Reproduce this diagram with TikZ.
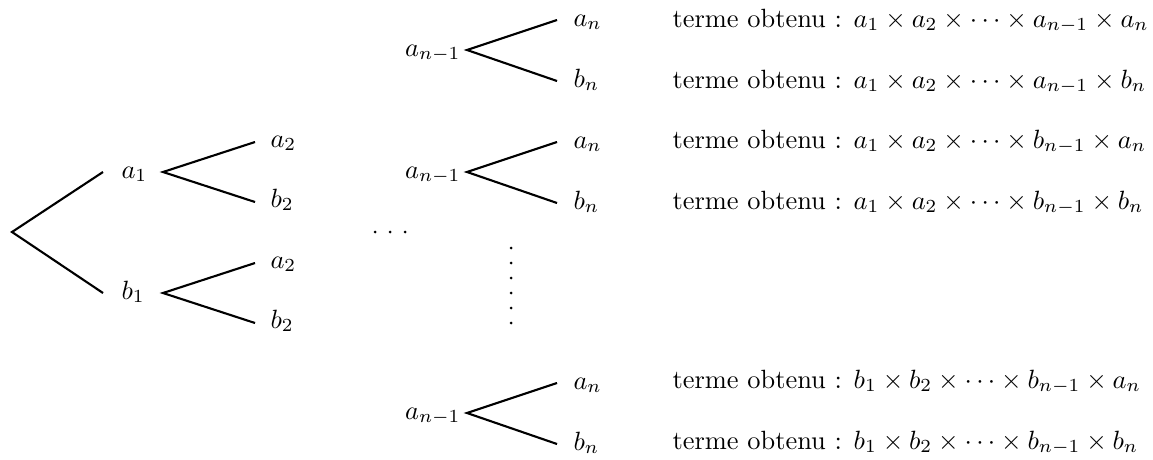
\documentclass[tikz,border=0pt]{standalone}
\begin{document}
\begin{tikzpicture}[x=0.3788pt,y=-0.3788pt,
  branch/.style={thick},
  lbl/.style={inner sep=0pt,anchor=base west},
  lblr/.style={inner sep=0pt,anchor=base east},
  res/.style={inner sep=0pt,anchor=base west},
  dotmark/.style={fill=black}]
\useasboundingbox (0,0) rectangle (1153,459);
% ---------- left tree ----------
\coordinate (R) at (12,232);
\coordinate (A1e) at (103,172);
\coordinate (B1e) at (103,293);
\node[lbl] (a1) at (121,178) {$a_1$};
\node[lbl] (b1) at (121,299) {$b_1$};
\draw[branch] (A1e) -- (R) -- (B1e);
\coordinate (VA1) at (163,172);
\coordinate (VB1) at (163,293);
\coordinate (A2e1) at (255,142);
\coordinate (B2e1) at (255,202);
\coordinate (A2e2) at (255,263);
\coordinate (B2e2) at (255,323);
\draw[branch] (A2e1) -- (VA1) -- (B2e1);
\draw[branch] (A2e2) -- (VB1) -- (B2e2);
\node[lbl] (a2a) at (270,147) {$a_2$};
\node[lbl] (b2a) at (270,207) {$b_2$};
\node[lbl] (a2b) at (270,268) {$a_2$};
\node[lbl] (b2b) at (270,328) {$b_2$};
% ---------- dots ----------
\foreach \x in {375,390,405} \fill[dotmark] (\x,232) circle (1.5);
\foreach \y in {248,263,278,293,308,323} \fill[dotmark] (511,\y) circle (1.5);
% ---------- right trees ----------
\foreach \n/\v in {1/50,2/172,3/413}{
  \coordinate (V\n) at (467,\v);
  \coordinate (EA\n) at (557,\v-30);
  \coordinate (EB\n) at (557,\v+31);
  \draw[branch] (EA\n) -- (V\n) -- (EB\n);
  \node[lblr] (an1\n) at (461,\v+6) {$a_{n-1}$};
  \node[lbl] (an\n) at (573,\v-24) {$a_n$};
  \node[lbl] (bn\n) at (573,\v+37) {$b_n$};
}
% ---------- results ----------
\node[res] (t1) at (672,27) {terme obtenu : $a_1\times a_2\times\cdots\times a_{n-1}\times a_n$};
\node[res] (t2) at (672,88) {terme obtenu : $a_1\times a_2\times\cdots\times a_{n-1}\times b_n$};
\node[res] (t3) at (672,148) {terme obtenu : $a_1\times a_2\times\cdots\times b_{n-1}\times a_n$};
\node[res] (t4) at (672,209) {terme obtenu : $a_1\times a_2\times\cdots\times b_{n-1}\times b_n$};
\node[res] (t5) at (672,388) {terme obtenu : $b_1\times b_2\times\cdots\times b_{n-1}\times a_n$};
\node[res] (t6) at (672,449) {terme obtenu : $b_1\times b_2\times\cdots\times b_{n-1}\times b_n$};
\end{tikzpicture}
\end{document}
